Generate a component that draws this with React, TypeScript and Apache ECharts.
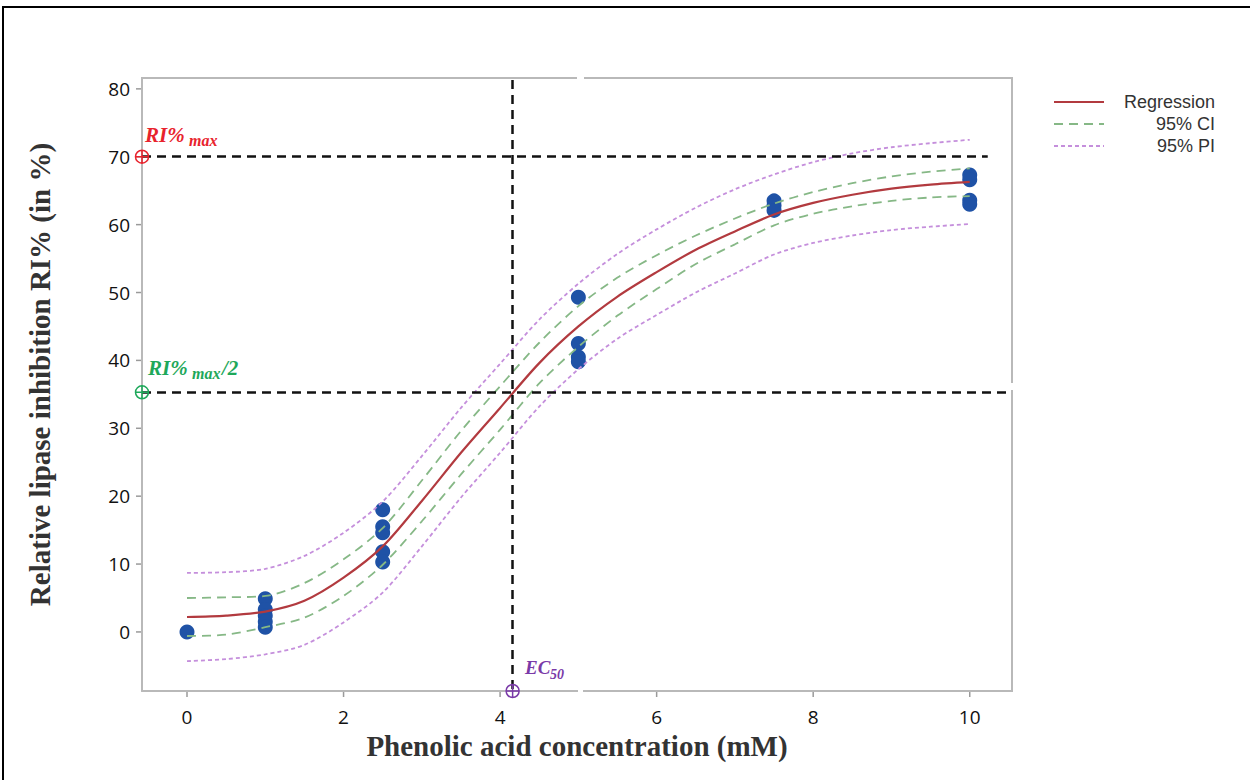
import React, { useEffect, useRef } from "react";
import * as echarts from "echarts";

// Concentration grid for the fitted curves (mM)
const curveX = [0, 0.5, 1, 1.5, 2, 2.5, 3, 3.5, 4, 4.5, 5, 5.5, 6, 6.5, 7, 7.5, 8, 8.5, 9, 9.5, 10];
const regression = [2.2, 2.4, 3.0, 4.6, 8.0, 12.6, 19.3, 26.4, 33.0, 39.6, 45.0, 49.4, 53.0, 56.3, 59.0, 61.5, 63.2, 64.4, 65.3, 65.9, 66.3];
const ciUpper = [5.0, 5.1, 5.3, 7.2, 10.7, 15.3, 22.3, 29.6, 36.2, 42.6, 48.0, 52.2, 55.5, 58.4, 60.9, 63.1, 64.8, 66.1, 67.1, 67.8, 68.3];
const ciLower = [-0.6, -0.4, 0.7, 2.1, 5.3, 9.9, 16.3, 23.2, 29.8, 36.6, 42.0, 46.6, 50.5, 54.2, 57.1, 59.9, 61.6, 62.7, 63.5, 64.0, 64.2];
const piUpper = [8.7, 8.8, 9.3, 11.2, 14.6, 19.2, 25.9, 33.0, 39.5, 46.0, 51.3, 55.7, 59.3, 62.5, 65.2, 67.4, 69.2, 70.5, 71.4, 72.0, 72.5];
const piLower = [-4.3, -4.0, -3.3, -1.9, 1.4, 5.8, 12.6, 19.8, 26.4, 33.2, 38.7, 43.2, 46.7, 50.0, 52.8, 55.6, 57.3, 58.4, 59.2, 59.7, 60.1];

// Observed data
const obsX = [0, 1, 1, 1, 1, 1, 2.5, 2.5, 2.5, 2.5, 2.5, 5, 5, 5, 5, 7.5, 7.5, 7.5, 10, 10, 10, 10];
const obsY = [0, 4.9, 3.3, 2.4, 1.5, 0.7, 18.0, 15.5, 14.6, 11.8, 10.3, 49.3, 42.5, 40.5, 39.8, 63.5, 62.8, 62.1, 67.3, 66.6, 63.6, 63.0];

// Reference values
const riMax = 70;
const riHalf = 35.3;
const ec50 = 4.16;

const xTicks = [0, 2, 4, 6, 8, 10];
const yTicks = [0, 10, 20, 30, 40, 50, 60, 70, 80];
const xMin = -0.575;
const xMax = 10.54;
const yMin = -8.7;
const yMax = 81.6;

const legendNames = ["Regression", "95% CI", "95% PI"];

const pair = (ys: number[]) => curveX.map((x, i) => [x, ys[i]]);

const markerPath = "path://M12,2A10,10 0 1,1 12,22A10,10 0 1,1 12,2Z M2,12L22,12 M12,2L12,22";

const annFont = { fontFamily: "Liberation Serif", fontStyle: "italic", fontWeight: "bold" };

export default function App() {
  const ref = useRef<HTMLDivElement>(null);
  useEffect(() => {
    document.body.style.margin = "0";
    const chart = echarts.init(ref.current!, null, { renderer: "svg" });
    const frameColor = "#b9b9b9";
    const frameStyle = { stroke: frameColor, lineWidth: 2 };
    const tickStyle = { stroke: "#9a9a9a", lineWidth: 1.5 };
    const baseGraphic: any[] = [
      { type: "rect", shape: { x: 3, y: 7, width: 1260, height: 800 }, style: { fill: "none", stroke: "#000", lineWidth: 2 }, silent: true },
      // plot frame top/right with Minitab-style gaps
      { type: "line", shape: { x1: 141, y1: 78, x2: 577, y2: 78 }, style: frameStyle },
      { type: "line", shape: { x1: 584, y1: 78, x2: 1013, y2: 78 }, style: frameStyle },
      { type: "line", shape: { x1: 1012, y1: 77, x2: 1012, y2: 383 }, style: frameStyle },
      { type: "line", shape: { x1: 1012, y1: 390, x2: 1012, y2: 692 }, style: frameStyle },
      { type: "rect", z: 100, shape: { x: 578, y: 688, width: 5, height: 6 }, style: { fill: "#fff" }, silent: true },
      // annotations
      { type: "text", left: 145, top: 124, style: { text: "RI%", fontSize: 21, fill: "#e8232d", ...annFont } },
      { type: "text", left: 189, top: 132, style: { text: "max", fontSize: 16, fill: "#e8232d", ...annFont } },
      { type: "text", left: 148, top: 357, style: { text: "RI%", fontSize: 21, fill: "#1ea85a", ...annFont } },
      { type: "text", left: 192, top: 365, style: { text: "max", fontSize: 16, fill: "#1ea85a", ...annFont } },
      { type: "text", left: 222, top: 357, style: { text: "/2", fontSize: 21, fill: "#1ea85a", ...annFont } },
      { type: "text", left: 525, top: 658, style: { text: "EC", fontSize: 19, fill: "#7a3aa8", ...annFont } },
      { type: "text", left: 550, top: 667, style: { text: "50", fontSize: 14, fill: "#7a3aa8", ...annFont } },
    ];
    const option: any = {
      animation: false,
      backgroundColor: "#ffffff",
      grid: { left: 142, right: 238, top: 78, bottom: 89 },
      xAxis: {
        type: "value",
        min: xMin,
        max: xMax,
        splitLine: { show: false },
        axisLine: { show: true, onZero: false, lineStyle: { color: frameColor, width: 2 } },
        axisTick: { show: false },
        axisLabel: { customValues: xTicks, fontSize: 19, color: "#111", margin: 16, fontFamily: "Open Sans" },
        name: "Phenolic acid concentration (mM)",
        nameLocation: "middle",
        nameGap: 40,
        nameTextStyle: { fontFamily: "Liberation Serif", fontWeight: "bold", fontSize: 29, color: "#333" },
      },
      yAxis: {
        type: "value",
        min: yMin,
        max: yMax,
        splitLine: { show: false },
        axisLine: { show: true, onZero: false, lineStyle: { color: frameColor, width: 2 } },
        axisTick: { show: false },
        axisLabel: { customValues: yTicks, fontSize: 19, color: "#111", margin: 12, fontFamily: "Open Sans" },
        name: "Relative lipase inhibition RI% (in %)",
        nameLocation: "middle",
        nameGap: 88,
        nameTextStyle: { fontFamily: "Liberation Serif", fontWeight: "bold", fontSize: 29, color: "#333", padding: [0, 0, 0, 20] },
      },
      legend: {
        data: legendNames,
        orient: "vertical",
        left: 1048,
        top: 88,
        itemWidth: 50,
        itemHeight: 14,
        itemGap: 4,
        itemStyle: { opacity: 0 },
        formatter: (n: string) => `{r|${n}}`,
        textStyle: {
          rich: { r: { width: 106, align: "right", fontSize: 18, lineHeight: 19, color: "#333", fontFamily: "Liberation Sans" } },
        },
      },
      series: [
        {
          name: "95% PI",
          type: "line",
          data: pair(piUpper),
          smooth: 0.3,
          symbol: "none",
          lineStyle: { color: "#c58fdc", width: 1.8, type: [4, 3] },
          itemStyle: { color: "#c58fdc" },
        },
        {
          name: "95% PI",
          type: "line",
          data: pair(piLower),
          smooth: 0.3,
          symbol: "none",
          lineStyle: { color: "#c58fdc", width: 1.8, type: [4, 3] },
          itemStyle: { color: "#c58fdc" },
        },
        {
          name: "95% CI",
          type: "line",
          data: pair(ciUpper),
          smooth: 0.3,
          symbol: "none",
          lineStyle: { color: "#86b886", width: 1.8, type: [9, 6] },
          itemStyle: { color: "#86b886" },
        },
        {
          name: "95% CI",
          type: "line",
          data: pair(ciLower),
          smooth: 0.3,
          symbol: "none",
          lineStyle: { color: "#86b886", width: 1.8, type: [9, 6] },
          itemStyle: { color: "#86b886" },
        },
        {
          name: "Regression",
          type: "line",
          data: pair(regression),
          smooth: 0.3,
          symbol: "none",
          lineStyle: { color: "#b23a3f", width: 2.2 },
          itemStyle: { color: "#b23a3f" },
        },
        {
          name: "Observed",
          type: "scatter",
          data: obsX.map((x, i) => [x, obsY[i]]),
          symbolSize: 15,
          itemStyle: { color: "#1f52a6", opacity: 1 },
          markLine: {
            silent: true,
            symbol: ["none", "none"],
            label: { show: false },
            lineStyle: { color: "#111", type: [9, 6], width: 2.5 },
            data: [
              [{ coord: [xMin, riMax] }, { coord: [10.23, riMax] }],
              [{ coord: [xMin, riHalf] }, { coord: [xMax, riHalf] }],
              [{ coord: [ec50, yMax - 0.3] }, { coord: [ec50, yMin] }],
            ],
          },
        },
        {
          name: "markerMax",
          type: "scatter",
          data: [[xMin, riMax]],
          symbol: markerPath,
          symbolSize: 13,
          clip: false,
          z: 5,
          itemStyle: { color: "transparent", borderColor: "#e8232d", borderWidth: 1.5, opacity: 1 },
        },
        {
          name: "markerHalf",
          type: "scatter",
          data: [[xMin, riHalf]],
          symbol: markerPath,
          symbolSize: 13,
          clip: false,
          z: 5,
          itemStyle: { color: "transparent", borderColor: "#1ea85a", borderWidth: 1.5, opacity: 1 },
        },
        {
          name: "markerEC",
          type: "scatter",
          data: [[ec50, yMin]],
          symbol: markerPath,
          symbolSize: 13,
          clip: false,
          z: 5,
          itemStyle: { color: "transparent", borderColor: "#7a3aa8", borderWidth: 1.5, opacity: 1 },
        },
      ],
      graphic: baseGraphic,
    };
    chart.setOption(option);
    // tick marks placed through the axes' own scales
    const ticks: any[] = [];
    xTicks.forEach((v) => {
      const p = chart.convertToPixel({ gridIndex: 0 }, [v, yMin]) as number[];
      ticks.push({ type: "line", shape: { x1: p[0], y1: p[1], x2: p[0], y2: p[1] + 6 }, style: tickStyle, silent: true });
    });
    yTicks.forEach((v) => {
      const p = chart.convertToPixel({ gridIndex: 0 }, [xMin, v]) as number[];
      ticks.push({ type: "line", shape: { x1: p[0] - 6, y1: p[1], x2: p[0], y2: p[1] }, style: tickStyle, silent: true });
    });
    chart.setOption({ graphic: [...baseGraphic, ...ticks] });
    return () => chart.dispose();
  }, []);
  return <div ref={ref} style={{ width: 1250, height: 780 }} />;
}
